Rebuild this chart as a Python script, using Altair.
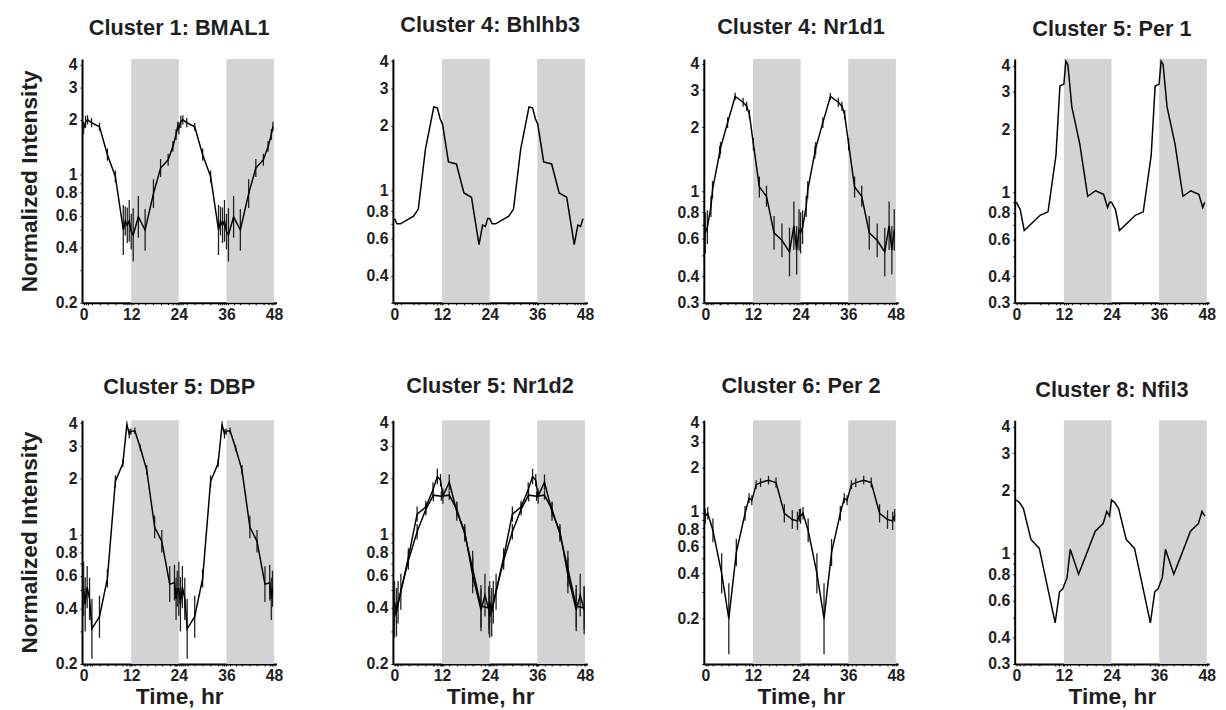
import altair as alt
import pandas as pd

FONT = "Liberation Sans, Arial, sans-serif"
INK = "#1f1f1f"
SHADE_COLOR = "#d1d3d4"

TITLES = ["Cluster 1: BMAL1", "Cluster 4: Bhlhb3", "Cluster 4: Nr1d1", "Cluster 5: Per 1",
          "Cluster 5: DBP", "Cluster 5: Nr1d2", "Cluster 6: Per 2", "Cluster 8: Nfil3"]

X_LABELS = [0, 12, 24, 36, 48]
SHADE_START = [12, 36]
SHADE_END = [24, 48]
CYCLE_SHIFTS = [0, 24]

# ---- Panel 1: BMAL1 (one cycle, hr; values; error factors)
P1_T = [0, 0.5, 1, 2, 4, 6, 8, 10, 10.5, 11, 11.5, 12, 12.5, 13.8, 15.5, 17.6, 19.4, 21.3, 22.5, 23.3, 23.7]
P1_V = [1.80, 1.95, 2.0, 1.93, 1.83, 1.29, 0.98, 0.50, 0.56, 0.53, 0.56, 0.49, 0.47, 0.59, 0.50, 0.79, 1.09, 1.21, 1.43, 1.66, 1.84]
P1_E = [1.08, 1.08, 1.06, 1.06, 1.05, 1.08, 1.08, 1.37, 1.2, 1.25, 1.3, 1.25, 1.4, 1.3, 1.3, 1.2, 1.12, 1.08, 1.07, 1.07, 1.06]

# ---- Panel 2: Bhlhb3
P2_T = [0, 0.6, 1.5, 4.8, 6, 7.8, 9.9, 10.8, 11.5, 12.1, 13.6, 15.6, 17.5, 19.4, 21.3, 22.2, 22.9, 23.5]
P2_V = [0.74, 0.70, 0.70, 0.76, 0.82, 1.56, 2.45, 2.43, 2.16, 2.04, 1.36, 1.33, 0.975, 0.93, 0.56, 0.69, 0.68, 0.74]

# ---- Panel 3: Nr1d1
P3_T = [0, 0.5, 1.4, 1.8, 3.6, 3.8, 5.6, 7.5, 9.5, 10.4, 11.1, 12.1, 13.6, 15.4, 17.3, 19.3, 21.2, 22.3, 23.0, 23.6]
P3_V = [0.64, 0.68, 0.85, 1.02, 1.53, 1.60, 2.11, 2.80, 2.63, 2.52, 2.30, 1.67, 1.05, 0.95, 0.64, 0.59, 0.52, 0.69, 0.53, 0.66]
P3_E = [1.25, 1.2, 1.12, 1.1, 1.07, 1.07, 1.06, 1.04, 1.05, 1.05, 1.05, 1.07, 1.12, 1.12, 1.2, 1.2, 1.3, 1.3, 1.3, 1.25]

# ---- Panel 4: Per 1
P4_T = [0, 1, 2, 6, 8, 10, 11, 12, 12.5, 13, 14, 16, 18, 20, 22, 23, 23.5]
P4_V = [0.90, 0.83, 0.66, 0.78, 0.81, 1.5, 3.2, 3.27, 4.2, 4.05, 2.55, 1.7, 0.96, 1.02, 0.98, 0.85, 0.90]

# ---- Panel 5: DBP
P5_T = [0, 0.4, 0.9, 1.5, 2.1, 4, 6, 8, 9.9, 10.9, 11.5, 11.9, 12.9, 14.3, 15.9, 17.9, 19.7, 21.7, 22.9, 23.3, 23.6]
P5_V = [0.51, 0.42, 0.52, 0.45, 0.31, 0.36, 0.58, 1.94, 2.43, 3.94, 3.5, 3.6, 3.65, 2.94, 2.24, 1.10, 0.92, 0.54, 0.55, 0.45, 0.51]
P5_E = [1.4, 1.4, 1.3, 1.3, 1.45, 1.3, 1.12, 1.08, 1.05, 1.04, 1.06, 1.04, 1.04, 1.04, 1.06, 1.15, 1.15, 1.25, 1.25, 1.3, 1.25]

# ---- Panel 6: Nr1d2 (two probes)
P6A_T = [0, 0.5, 1.6, 3.5, 5.7, 7.9, 9.7, 10.8, 11.6, 12.2, 13.8, 15.7, 17.7, 19.7, 21.8, 22.8, 23.8]
P6A_V = [0.43, 0.38, 0.49, 0.75, 1.28, 1.40, 1.73, 2.04, 1.95, 1.6, 1.9, 1.32, 1.03, 0.60, 0.39, 0.47, 0.39]
P6A_E = [1.3, 1.35, 1.25, 1.12, 1.1, 1.08, 1.1, 1.1, 1.08, 1.1, 1.1, 1.12, 1.1, 1.25, 1.3, 1.3, 1.35]
P6B_T = [0, 0.9, 3.5, 5.7, 7.9, 9.8, 11.8, 13.8, 15.7, 17.7, 19.7, 21.8, 23.8]
P6B_V = [0.36, 0.43, 0.72, 1.03, 1.36, 1.62, 1.60, 1.62, 1.36, 1.0, 0.65, 0.41, 0.40]
P6B_E = [1.3, 1.3, 1.12, 1.1, 1.08, 1.08, 1.06, 1.06, 1.1, 1.1, 1.25, 1.3, 1.3]

# ---- Panel 7: Per 2
P7_T = [0, 0.6, 1.9, 4.1, 5.9, 7.8, 10, 11, 11.7, 12.8, 13.9, 15.9, 17.8, 19.9, 21.9, 23.2, 23.7]
P7_V = [0.96, 1.0, 0.77, 0.40, 0.20, 0.55, 1.0, 1.26, 1.22, 1.55, 1.6, 1.66, 1.6, 1.0, 0.91, 0.89, 0.97]
P7_E = [1.12, 1.1, 1.2, 1.36, 1.72, 1.23, 1.12, 1.08, 1.08, 1.07, 1.07, 1.07, 1.08, 1.15, 1.15, 1.15, 1.1]

# ---- Panel 8: Nfil3
P8_T = [0, 0.8, 1.8, 3.7, 5.8, 9.8, 10.9, 11.7, 12.8, 13.6, 15.7, 17.8, 19.9, 21.9, 22.8, 23.5]
P8_V = [1.80, 1.75, 1.64, 1.17, 1.06, 0.47, 0.66, 0.68, 0.77, 1.05, 0.80, 1.01, 1.28, 1.39, 1.59, 1.51]

# y-domains and tick labels per panel
Y_MIN = [0.2, 0.3, 0.3, 0.3, 0.2, 0.2, 0.1, 0.3]
Y_MAX = [4.3, 4.1, 4.2, 4.3, 4.15, 4.1, 4.15, 4.3]
Y_LABELS = [
    [0.2, 0.4, 0.6, 0.8, 1, 2, 3, 4],
    [0.4, 0.6, 0.8, 1, 2, 3, 4],
    [0.3, 0.4, 0.6, 0.8, 1, 2, 3, 4],
    [0.3, 0.4, 0.6, 0.8, 1, 2, 3, 4],
    [0.2, 0.4, 0.6, 0.8, 1, 2, 3, 4],
    [0.2, 0.4, 0.6, 0.8, 1, 2, 3, 4],
    [0.2, 0.4, 0.6, 0.8, 1, 2, 3, 4],
    [0.3, 0.4, 0.6, 0.8, 1, 2, 3, 4],
]
Y_MINOR = [0.1, 0.2, 0.3, 0.5, 0.7, 0.9]

PANEL_SERIES = [
    [(P1_T, P1_V, P1_E)],
    [(P2_T, P2_V, None)],
    [(P3_T, P3_V, P3_E)],
    [(P4_T, P4_V, None)],
    [(P5_T, P5_V, P5_E)],
    [(P6A_T, P6A_V, P6A_E), (P6B_T, P6B_V, P6B_E)],
    [(P7_T, P7_V, P7_E)],
    [(P8_T, P8_V, None)],
]

W, H = 197, 247


def panel(i):
    rows = []
    has_err = False
    for k, (ts, vs, es) in enumerate(PANEL_SERIES[i]):
        for sh in CYCLE_SHIFTS:
            for j, (t, v) in enumerate(zip(ts, vs)):
                e = es[j] if es is not None else None
                if e is not None:
                    has_err = True
                rows.append({"t": t + sh, "v": v,
                             "lo": v / e if e else v, "hi": v * e if e else v,
                             "s": f"s{k}"})
    df = pd.DataFrame(rows)
    ymin, ymax = Y_MIN[i], Y_MAX[i]
    shade = pd.DataFrame({"x0": SHADE_START, "x1": SHADE_END,
                          "y0": [ymin] * len(SHADE_START), "y1": [ymax] * len(SHADE_START)})
    labels = Y_LABELS[i]
    yvals = sorted(set([m for m in Y_MINOR if ymin <= m <= ymax] + labels))
    xvals = sorted(set(list(df["t"].round(2)) + X_LABELS))
    first_col = i % 4 == 0
    bottom = i >= 4
    tight = ymin < 0.2  # compressed log axis: nudge "1" up and "0.8" down

    xscale = alt.Scale(domain=[-0.4, 48.6], nice=False, zero=False)
    yscale = alt.Scale(type="log", domain=[ymin, ymax], nice=False)
    xaxis = alt.Axis(values=xvals, labelExpr=f"indexof({X_LABELS}, datum.value) >= 0 ? datum.value : ''",
                     title="Time, hr" if bottom else "", tickSize=2, labelPadding=2, titlePadding=2)
    yaxis_kw = dict(values=yvals,
                    labelExpr=f"indexof({labels}, datum.value) >= 0 ? format(datum.value, '~g') : ''",
                    title="Normalized Intensity" if first_col else "", tickSize=2, labelPadding=3,
                    titlePadding=14)
    if tight:
        yaxis_kw["labelOffset"] = {"condition": [{"test": "datum.value == 1", "value": -2},
                                                 {"test": "datum.value == 0.8", "value": 2}],
                                   "value": 0}
    yaxis = alt.Axis(**yaxis_kw)

    rect = alt.Chart(shade).mark_rect(color=SHADE_COLOR).encode(
        x=alt.X("x0:Q", scale=xscale, axis=xaxis),
        x2="x1",
        y=alt.Y("y0:Q", scale=yscale, axis=yaxis),
        y2="y1",
    )
    layers = [rect]
    if has_err:
        rule = alt.Chart(df).mark_rule(color=INK, strokeWidth=1.3, clip=True).encode(
            x=alt.X("t:Q", scale=xscale, axis=xaxis),
            y=alt.Y("lo:Q", scale=yscale, axis=yaxis),
            y2="hi",
        )
        layers.append(rule)
    line = alt.Chart(df).mark_line(color="black", strokeWidth=1.5, clip=True).encode(
        x=alt.X("t:Q", scale=xscale, axis=xaxis),
        y=alt.Y("v:Q", scale=yscale, axis=yaxis),
        detail="s:N",
        order="t:Q",
    )
    layers.append(line)
    return alt.layer(*layers).properties(
        width=W, height=H,
        title=alt.TitleParams(TITLES[i], anchor="middle"),
    )


top = alt.hconcat(*[panel(i) for i in range(4)], spacing=83)
bot = alt.hconcat(*[panel(i) for i in range(4, 8)], spacing=83)
chart = alt.vconcat(top, bot, spacing=53).configure_view(stroke=None).configure_axis(
    labelFont=FONT, labelFontWeight="bold", labelFontSize=16, labelColor=INK,
    titleFont=FONT, titleFontWeight="bold", titleFontSize=23, titleColor=INK,
    domainColor="black", domainWidth=2, tickColor="black", tickWidth=1,
    grid=False, labelOverlap=False, labelFlush=False,
).configure_title(
    font=FONT, fontSize=22, fontWeight="bold", color=INK, offset=17,
).properties(padding={"left": 10, "top": 1, "right": 2, "bottom": 2})

chart.save("out.html", embed_options={"renderer": "svg", "actions": False})
